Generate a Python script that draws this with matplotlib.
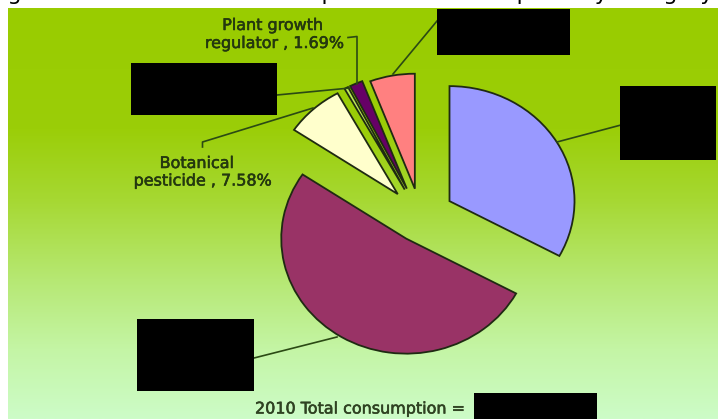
import numpy as np
import matplotlib
matplotlib.use("Agg")
import matplotlib.pyplot as plt
from matplotlib.patches import Rectangle
import matplotlib.patheffects as pe

# ---- data (clockwise from 12 o'clock) ----
categories = ["(label hidden)", "(label hidden)", "Botanical pesticide",
              "(label hidden)", "Plant growth regulator", "(label hidden)"]
shares = [32.9, 51.5, 7.58, 0.5, 1.69, 5.8]
slice_colors = ["#9999FF", "#993366", "#FFFFCC", "#BFE85A", "#660066", "#FF8080"]
explode = [0.27, 0.22, 0.27, 0.27, 0.27, 0.25]
label_texts = {
    "Plant growth regulator": ("Plant growth", "regulator , 1.69%"),
    "Botanical pesticide": ("Botanical", "pesticide , 7.58%"),
}
footer = "2010 Total consumption ="
title = "Figure 1  Structure of China's pesticide consumption by category and type, 2010"

W, H = 718, 419
fig = plt.figure(figsize=(W / 100, H / 100), dpi=100)
fig.patch.set_facecolor("white")

# ---- background gradient (pixel coordinates, y down) ----
bg = fig.add_axes([0, 0, 1, 1], zorder=0)
bg.set_xlim(0, W)
bg.set_ylim(H, 0)
bg.axis("off")
ys = np.arange(9, H + 1)
sy = [9, 130, 200, 280, 350, 419]
sc = np.array([(153, 204, 0), (155, 206, 8), (166, 216, 50),
               (182, 232, 115), (196, 245, 165), (205, 252, 200)]) / 255.0
grad = np.stack([np.interp(ys, sy, sc[:, k]) for k in range(3)], axis=-1)
grad = grad[:, None, :]
bg.imshow(grad, extent=(8, W, H, 9), aspect="auto", interpolation="bilinear")

# ---- pie (stretched ellipse, centre at pixel (cx, cy)) ----
cx, cy, a, b = 420.5, 217.0, 125.0, 115.0
ax = fig.add_axes([0, 0, 1, 1], zorder=1)
ax.patch.set_alpha(0)
ax.pie(shares, explode=explode, colors=slice_colors, startangle=90,
       counterclock=False,
       wedgeprops=dict(edgecolor="#1f2a12", linewidth=1.3))
ax.set_aspect("auto")
ax.set_xlim(-cx / a, (W - cx) / a)
ax.set_ylim(-(H - cy) / b, cy / b)
ax.axis("off")

# ---- overlay: labels, leader lines, redaction boxes ----
ov = fig.add_axes([0, 0, 1, 1], zorder=2)
ov.patch.set_alpha(0)
ov.set_xlim(0, W)
ov.set_ylim(H, 0)
ov.axis("off")

tc = "#24380f"
lc = "#2b4a14"
fs = 11.5
thick = [pe.withStroke(linewidth=0.4, foreground=tc)]

ov.text(-10, 0.5, title, fontsize=16, color="black", va="baseline", ha="left")

l1, l2 = label_texts["Plant growth regulator"]
ov.text(273, 30, l1, fontsize=fs, color=tc, ha="center", va="baseline", path_effects=thick)
ov.text(275, 48, l2, fontsize=fs, color=tc, ha="center", va="baseline", path_effects=thick)
ov.plot([348, 357, 357], [37.5, 36.5, 84], color=lc, lw=1.2)

l1, l2 = label_texts["Botanical pesticide"]
ov.text(197, 168, l1, fontsize=fs, color=tc, ha="center", va="baseline", path_effects=thick)
ov.text(203, 185.5, l2, fontsize=fs, color=tc, ha="center", va="baseline", path_effects=thick)
ov.plot([202.5, 202.5, 313], [147, 142, 108], color=lc, lw=1.2)

# other leader lines (labels redacted)
ov.plot([437, 393], [21, 74], color=lc, lw=1.2)
ov.plot([277, 350], [95, 88], color=lc, lw=1.2)
ov.plot([557, 621], [142, 125], color=lc, lw=1.2)
ov.plot([254, 337], [358, 337], color=lc, lw=1.2)

ov.text(255, 413.5, footer, fontsize=fs, color="#2f4222", ha="left", va="baseline",
        path_effects=[pe.withStroke(linewidth=0.4, foreground="#2f4222")])

for (x0, y0, x1, y1) in [(437, 9, 570, 55), (130.5, 63, 277, 115),
                         (620, 86, 716, 160), (137, 319, 254, 391),
                         (474, 393, 597, 419)]:
    ov.add_patch(Rectangle((x0, y0), x1 - x0, y1 - y0, facecolor="black",
                           edgecolor="none", zorder=5))

fig.savefig("out.png", dpi=100)
